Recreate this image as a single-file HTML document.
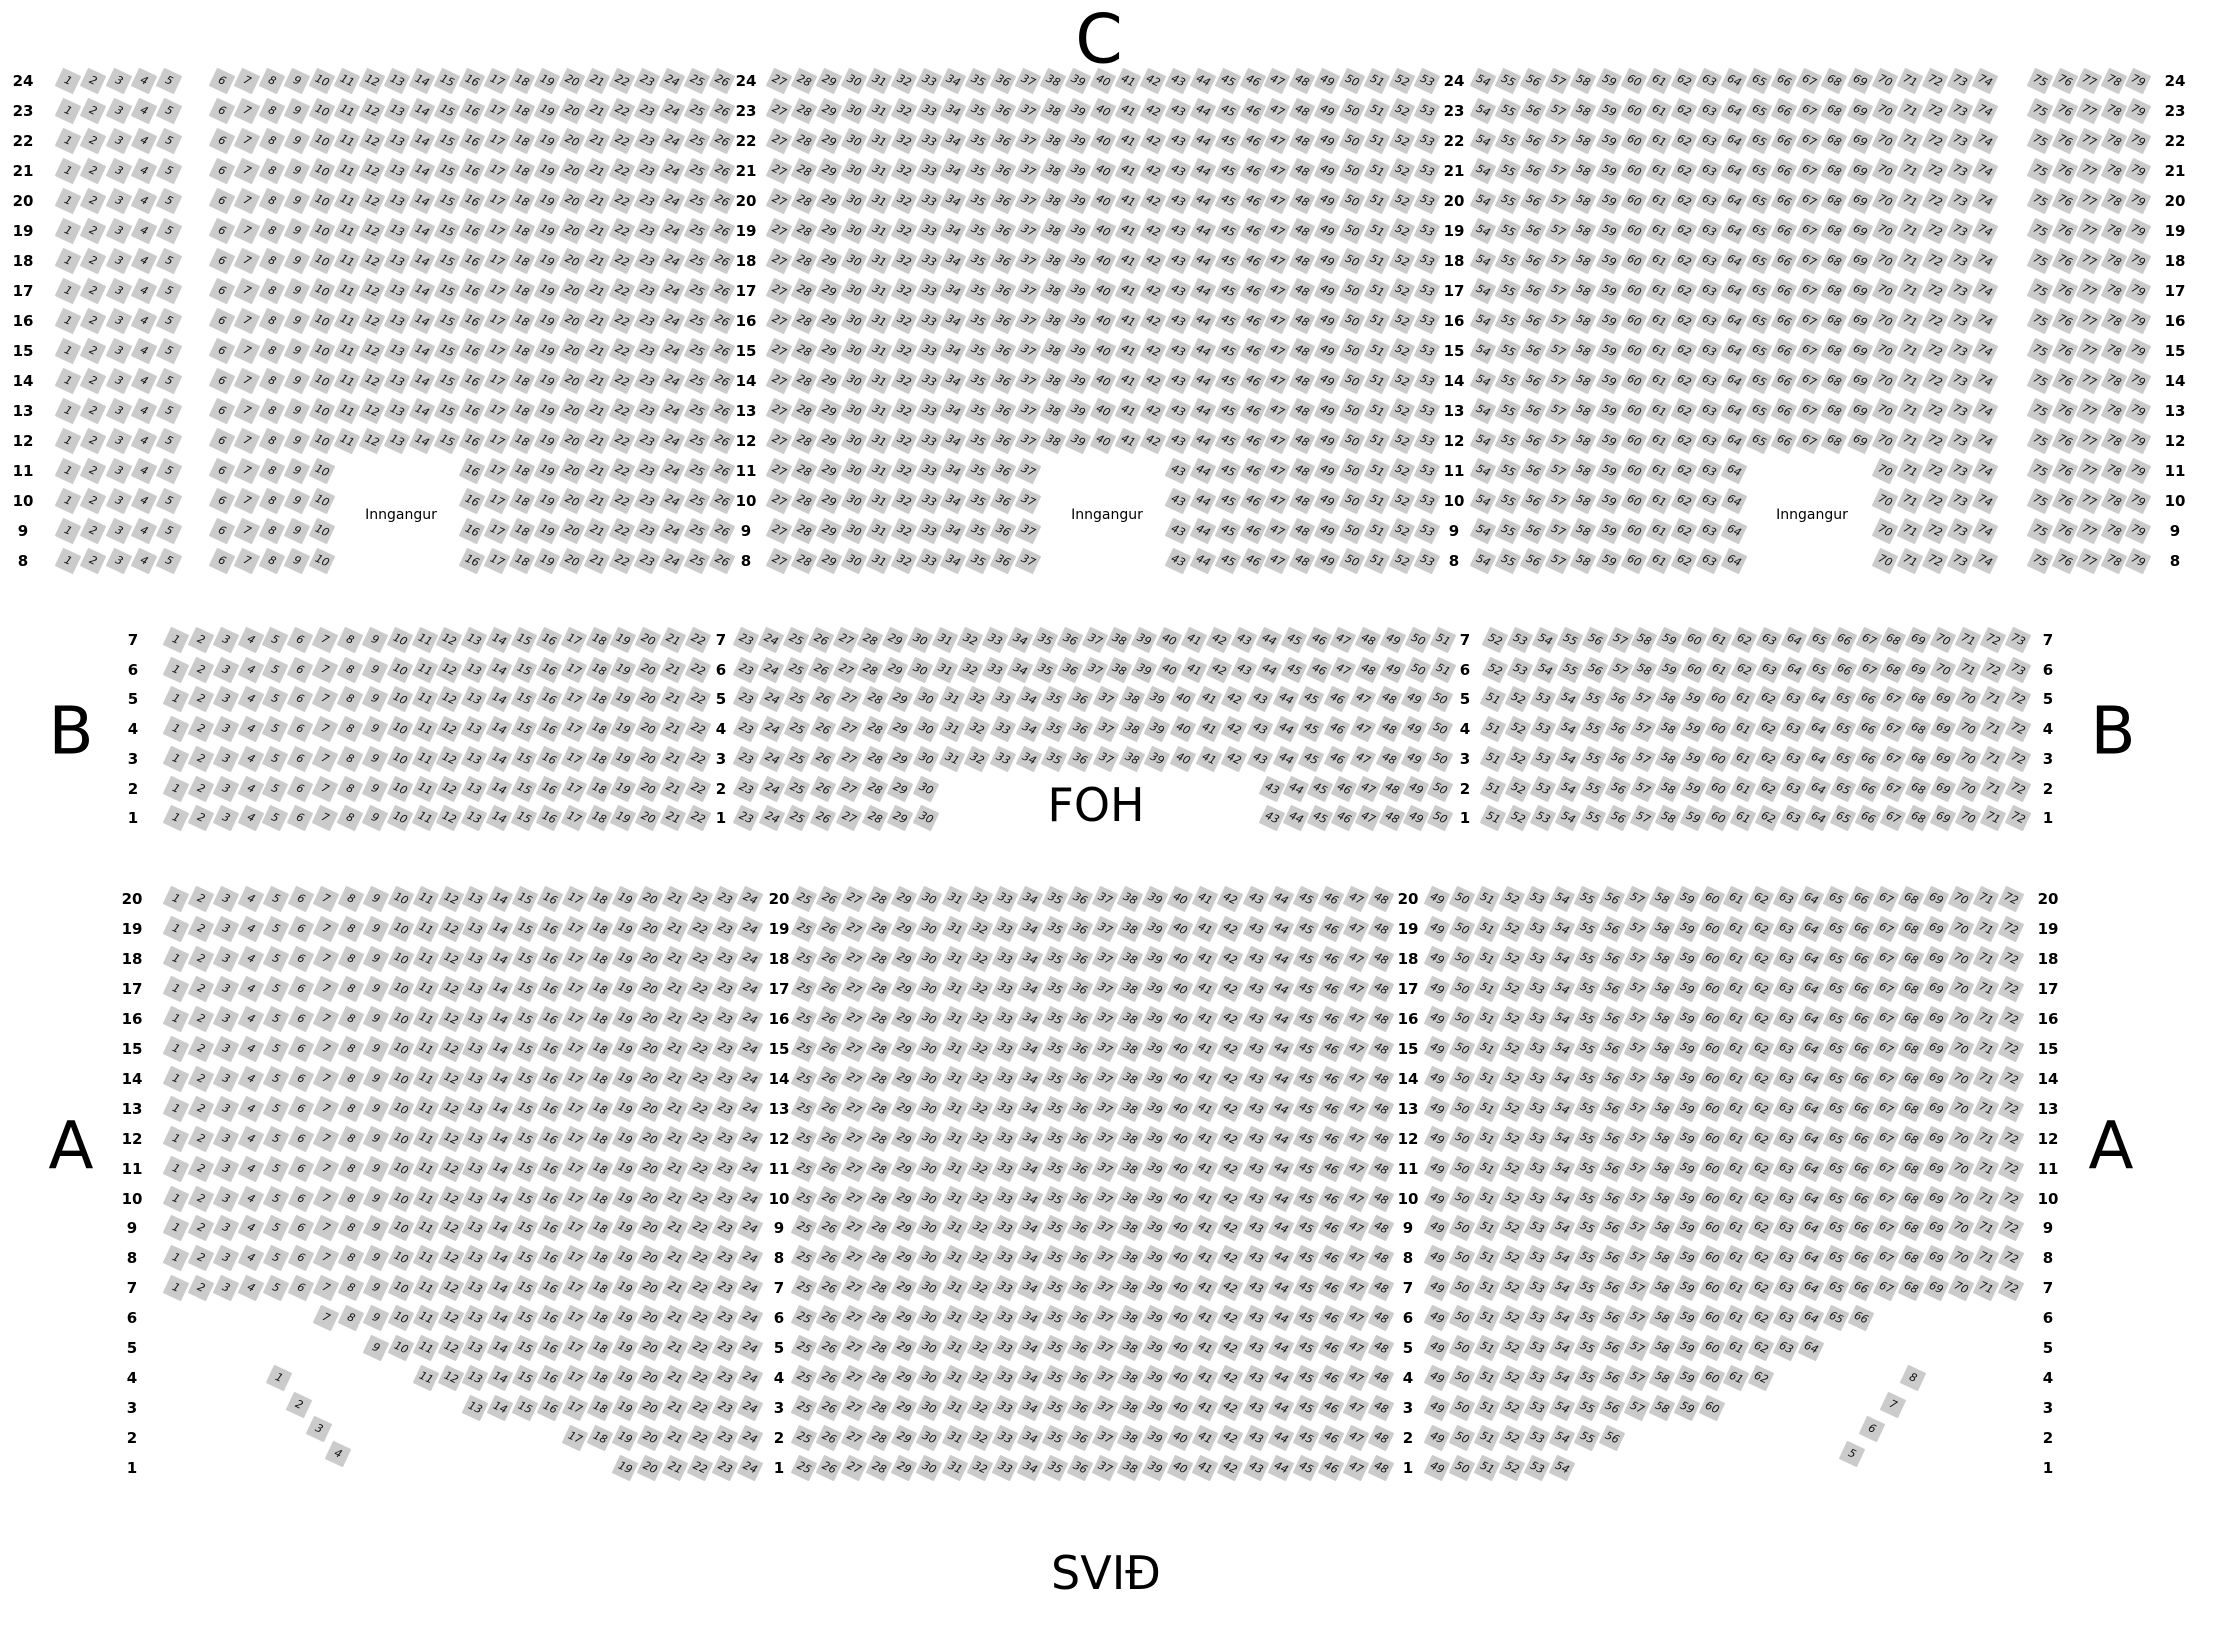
<!DOCTYPE html>
<html><head><meta charset="utf-8"><style>
html,body{margin:0;padding:0;background:#fff;}
#c{position:relative;width:2220px;height:1630px;overflow:hidden;font-family:"DejaVu Sans","Liberation Sans",sans-serif;}
.s{position:absolute;width:20px;height:20px;margin:-10px 0 0 -10px;background:#cbcbcb;transform:rotate(25deg);font-size:11px;line-height:20px;text-align:center;color:#111;font-style:italic;border-radius:1px;}
.l{position:absolute;font-weight:bold;font-size:15px;transform:translate(-50%,-50%);color:#000;}
.b{position:absolute;transform:translate(-50%,-50%);color:#000;}
.i{position:absolute;font-size:14px;transform:translate(-50%,-50%);}
</style></head><body><div id="c">
<div class="b" style="left:1099px;top:40px;font-size:68px">C</div>
<div class="b" style="left:71px;top:731px;font-size:66px">B</div>
<div class="b" style="left:2113px;top:731px;font-size:66px">B</div>
<div class="b" style="left:1096px;top:805px;font-size:46px">FOH</div>
<div class="b" style="left:71px;top:1146px;font-size:66px">A</div>
<div class="b" style="left:2111px;top:1146px;font-size:66px">A</div>
<div class="b" style="left:1106px;top:1573px;font-size:46px">SVIÐ</div>
<div class="i" style="left:401px;top:515px">Inngangur</div>
<div class="i" style="left:1107px;top:515px">Inngangur</div>
<div class="i" style="left:1812px;top:515px">Inngangur</div>
</div>
<script>
var c=document.getElementById('c');
function seat(x,y,n){var d=document.createElement('div');d.className='s';d.style.left=x+'px';d.style.top=y+'px';d.textContent=n;c.appendChild(d);}
function lab(x,y,t){var d=document.createElement('div');d.className='l';d.style.left=x+'px';d.style.top=y+'px';d.textContent=t;c.appendChild(d);}
function run(y,x0,x1,n0,n1,N0,N1){
 var p=(x1-x0)/(n1-n0);for(var n=N0;n<=N1;n++)seat(x0+(n-n0)*p,y,n);}
for(var r=24;r>=8;r--){var y=81+(24-r)*30;
 lab(23,y,r);lab(746,y,r);lab(1454,y,r);lab(2175,y,r);
 run(y,68,169,1,5,1,5);
 run(y,2040,2138,75,79,75,79);
 if(r>=12){run(y,222,722,6,26,6,26);run(y,779,1427,27,53,27,53);run(y,1483,1985,54,74,54,74);}
 else{run(y,222,722,6,26,6,10);run(y,222,722,6,26,16,26);
  run(y,779,1427,27,53,27,37);run(y,779,1427,27,53,43,53);
  run(y,1483,1985,54,74,54,64);run(y,1483,1985,54,74,70,74);}
}
for(var r=7;r>=1;r--){var y=640+(7-r)*29.7;
 lab(133,y,r);lab(721,y,r);lab(1465,y,r);lab(2048,y,r);
 run(y,176,698,1,22,1,22);
 if(r>=6){run(y,746,1443,23,51,23,51);run(y,1495,2018,52,73,52,73);}
 else{run(y,1493,2018,51,72,51,72);
  if(r>=3)run(y,746,1440,23,50,23,50);
  else{run(y,746,1440,23,50,23,30);run(y,1272,1440,43,50,43,50);}}
}
var L={6:7,5:9,4:11,3:13,2:17,1:19},R={6:66,5:64,4:62,3:60,2:56,1:54};
for(var r=20;r>=1;r--){var y=899+(20-r)*29.95;
 lab(132,y,r);lab(779,y,r);lab(1408,y,r);lab(2048,y,r);
 var a=r>=7?1:L[r],b=r>=7?72:R[r];
 run(y,176,750,1,24,a,24);
 run(y,804,1381,25,48,25,48);
 run(y,1437,2011,49,72,49,b);
}
seat(279,1378,1);seat(299,1405,2);seat(319,1429,3);seat(338,1454,4);
seat(1913,1378,8);seat(1893,1405,7);seat(1872,1429,6);seat(1852,1454,5);
</script></body></html>
